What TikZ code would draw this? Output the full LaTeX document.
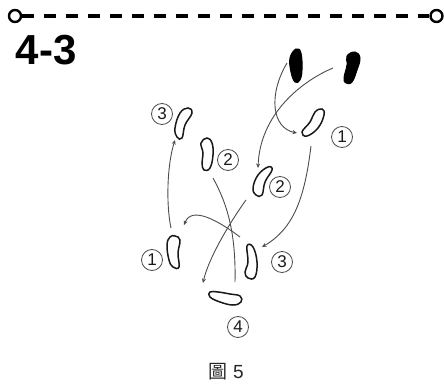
\documentclass[tikz,border=0pt]{standalone}
\usepackage{fontspec}
\setmainfont{Liberation Sans}
\newfontfamily\cjkfont{Noto Sans CJK TC}
\usetikzlibrary{arrows.meta}
\tikzset{
  blob/.style={draw=black!90,line width=1.5pt,fill=white},
  foot/.style={fill=black,draw=black,line width=1pt},
  run/.style={draw=black!70,line width=0.9pt,-{Stealth[length=4.5pt,width=4pt]}},
  free/.style={draw=black!70,line width=0.9pt},
  num/.style={circle,draw=black!70,line width=0.8pt,minimum size=21pt,inner sep=0pt,font=\fontsize{17}{17}\selectfont,text=black!90},
  endring/.style={circle,draw=black,line width=2.4pt,minimum size=12pt,inner sep=0pt,fill=white},
  dashline/.style={draw=black,line width=3.4pt,dash pattern=on 12pt off 10pt,dash phase=0pt}
}
\begin{document}
\begin{tikzpicture}[x=1pt,y=-1pt]
\useasboundingbox (0,0) rectangle (444,387);
\node[endring] (ringL) at (15,16) {};
\node[endring] (ringR) at (436.5,16) {};
\draw[dashline] (ringL.east) -- (ringR.west);
\node[font=\fontsize{42}{42}\selectfont\bfseries,anchor=base west,inner sep=0pt] (title) at (15.5,65) {4-3};
% players
\draw[foot] plot[smooth cycle,tension=0.7] coordinates {(296,49)(301,53)(302,70)(300,80)(295,82)(291,72)(290,58)};
\draw[foot] plot[smooth cycle,tension=0.7] coordinates {(355,52)(360,58)(357,70)(352,82)(346,83)(344,78)(347,65)(347,56)};
\draw[blob] plot[smooth cycle,tension=0.7] coordinates {(322,109)(324,115)(318,128)(307,136)(302,132)(310,122)(315,112)};
\draw[blob] plot[smooth cycle,tension=0.7] coordinates {(188,108)(192,113)(185,125)(182,138)(177,137)(175,128)(180,113)};
\draw[blob] plot[smooth cycle,tension=0.7] coordinates {(207,138)(212,143)(213,155)(210,168)(204,170)(202,163)(203,153)(201,143)};
\draw[blob] plot[smooth cycle,tension=0.7] coordinates {(268,167)(272,170)(265,182)(262,195)(256,195)(253,188)(258,175)};
\draw[blob] plot[smooth cycle,tension=0.7] coordinates {(175,236)(180,240)(178,253)(179,267)(173,267)(169,260)(167,245)(170,237)};
\draw[blob] plot[smooth cycle,tension=0.7] coordinates {(247,246)(253,247)(257,262)(255,277)(248,278)(245,272)(248,262)};
\draw[blob] plot[smooth cycle,tension=0.7] coordinates {(210,292)(218,292)(230,294)(240,296)(241,302)(233,305)(220,302)(210,297)};
% numbers
\node[num] (n3a) at (162,114) {3};
\node[num] (n1a) at (342,137) {1};
\node[num] (n2a) at (228,160) {2};
\node[num] (n2b) at (280,187) {2};
\node[num] (n1b) at (152,260) {1};
\node[num] (n3b) at (282,262) {3};
\node[num] (n4) at (238,327) {4};
% run lines
\coordinate (a0) at (287,63); \coordinate (a1) at (297,133);
\coordinate (b0) at (333,68); \coordinate (b1) at (258,168);
\coordinate (c0) at (311,146); \coordinate (c1) at (262,247);
\coordinate (d0) at (171,228); \coordinate (d1) at (175,140);
\coordinate (e0) at (213,178); \coordinate (e1) at (235,282);
\coordinate (f0) at (240,237); \coordinate (f1) at (184,225);
\coordinate (g0) at (246,200); \coordinate (g1) at (203,283);
\draw[run] (a0) .. controls (268,95) and (272,128) .. (a1);
\draw[run] (b0) .. controls (300,82) and (260,115) .. (b1);
\draw[run] (c0) .. controls (305,195) and (295,228) .. (c1);
\draw[run] (d0) .. controls (166,205) and (167,165) .. (d1);
\draw[free] (e0) .. controls (228,205) and (236,235) .. (e1);
\draw[run] (f0) .. controls (220,222) and (192,205) .. (f1);
\draw[run] (g0) .. controls (228,225) and (208,260) .. (g1);
% caption
\node[inner sep=0pt,anchor=center,text=black!85] (cap) at (226,372) {\fontsize{19}{19}\selectfont{\cjkfont 圖}\hspace{6pt}5};
\end{tikzpicture}
\end{document}
